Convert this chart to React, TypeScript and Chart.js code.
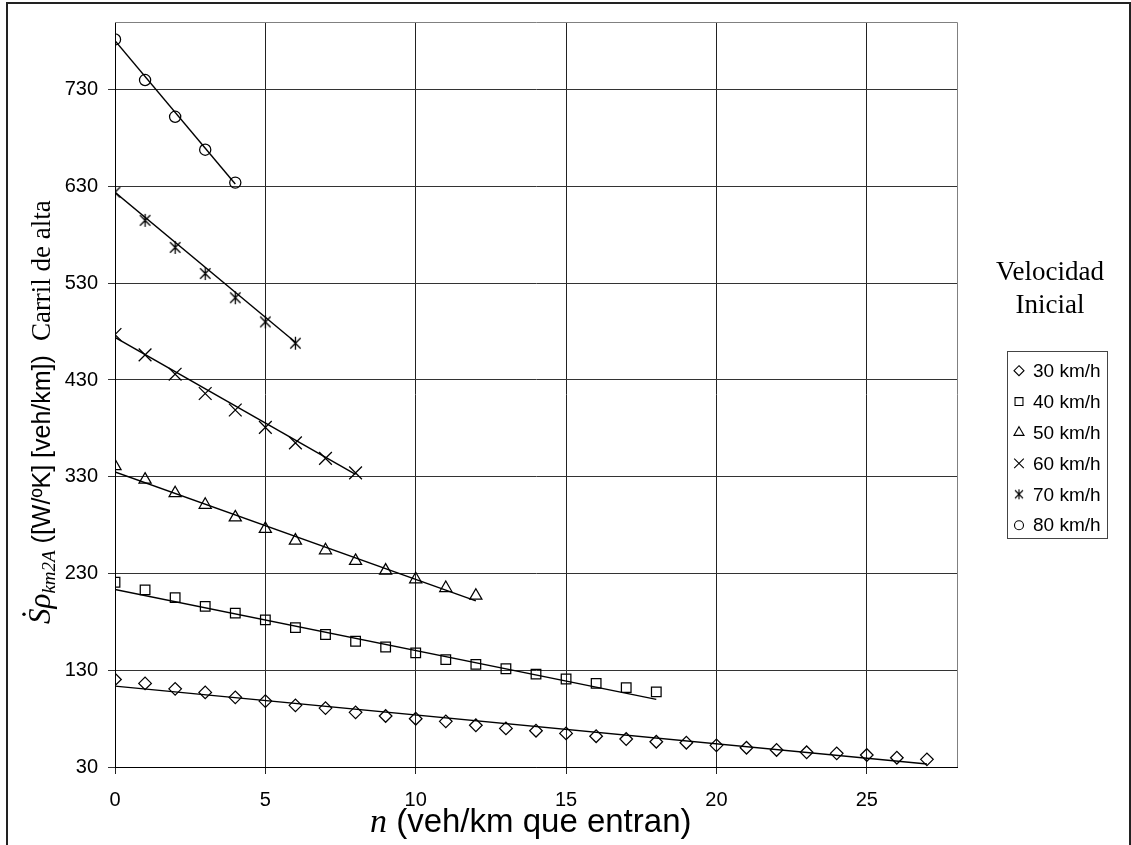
import React, { useEffect, useRef } from 'react';
import { Chart, registerables } from 'chart.js';

Chart.register(...registerables);

// ---- data ----
const xTickValues = [0, 5, 10, 15, 20, 25];
const yTickValues = [30, 130, 230, 330, 430, 530, 630, 730];

const seriesLabels = ['30 km/h', '40 km/h', '50 km/h', '60 km/h', '70 km/h', '80 km/h'];

const v30 = [120.5, 116.4, 110.8, 107.1, 102, 98.1, 93.7, 90.9, 86.5, 82.7, 79.9, 77.2, 73.1, 69.9, 67.5, 64.7, 61.8, 58.9, 56.1, 55.1, 52.4, 49.9, 47.6, 45.2, 44.1, 42.4, 39.6, 37.9];
const v40 = [221, 213, 205, 196, 189, 182, 174, 167, 160, 154, 148, 141, 136, 131.5, 126, 121, 116.4, 112, 107.7];
const v50 = [341, 327, 313, 301, 288, 276, 264, 254, 243, 233, 224, 215, 207];
const v60 = [477, 456, 436, 416, 399, 381, 365, 349, 334];
const v70 = [624, 595, 567, 540, 515, 490, 468];
const v80 = [782, 740, 702, 668, 634];

// trend lines (end points)
const trend30N = [0, 27];
const trend30V = [113.6, 33.1];
const trend40N = [0, 18];
const trend40V = [213.5, 99.9];
const trend50N = [0, 12];
const trend50V = [335, 201.7];
const trend60N = [0, 8];
const trend60V = [474, 332.5];
const trend70N = [0, 6];
const trend70V = [624, 469];
const trend80N = [0, 4];
const trend80V = [780.6, 632.6];

const SANS = 'Arial, "Liberation Sans", sans-serif';
const SERIF = '"Times New Roman", "Liberation Serif", serif';

function makeAsterisk(size: number, lw: number): HTMLCanvasElement {
  const c = document.createElement('canvas');
  c.width = size;
  c.height = size;
  const g = c.getContext('2d')!;
  g.strokeStyle = '#000';
  g.lineWidth = lw;
  const m = size / 2;
  const r = size / 2 - 1;
  const d = r * 0.8;
  g.beginPath();
  g.moveTo(m - d, m - d);
  g.lineTo(m + d, m + d);
  g.moveTo(m + d, m - d);
  g.lineTo(m - d, m + d);
  g.moveTo(m, m - r);
  g.lineTo(m, m + r);
  g.stroke();
  return c;
}

function drawMarker(ctx: CanvasRenderingContext2D, style: any, r: number, x: number, y: number) {
  ctx.beginPath();
  if (style === 'rectRot') {
    ctx.moveTo(x, y - r);
    ctx.lineTo(x + r, y);
    ctx.lineTo(x, y + r);
    ctx.lineTo(x - r, y);
    ctx.closePath();
  } else if (style === 'rect') {
    const s = r * Math.SQRT1_2;
    ctx.rect(x - s, y - s, 2 * s, 2 * s);
  } else if (style === 'triangle') {
    const h = r * 1.5;
    const w = r * Math.sqrt(3) / 2;
    ctx.moveTo(x, y - (2 / 3) * h);
    ctx.lineTo(x + w, y + h / 3);
    ctx.lineTo(x - w, y + h / 3);
    ctx.closePath();
  } else if (style === 'crossRot') {
    const d = r * Math.SQRT1_2;
    ctx.moveTo(x - d, y - d);
    ctx.lineTo(x + d, y + d);
    ctx.moveTo(x + d, y - d);
    ctx.lineTo(x - d, y + d);
  } else if (style === 'circle') {
    ctx.arc(x, y, r, 0, Math.PI * 2);
  } else {
    ctx.drawImage(style, x - style.width / 2, y - style.height / 2);
    return;
  }
  ctx.stroke();
}

const toPts = (vals: number[]) => vals.map((v, i) => ({ x: i, y: v }));
const toLine = (ns: number[], vs: number[]) => ns.map((n, i) => ({ x: n, y: vs[i] }));

export default function App() {
  const ref = useRef<HTMLCanvasElement | null>(null);

  useEffect(() => {
    const canvas = ref.current!;
    const star = makeAsterisk(15, 1.3);
    const starSmall = makeAsterisk(12, 1.1);

    const styles: any[] = ['rectRot', 'rect', 'triangle', 'crossRot', star, 'circle'];
    const radii = [6.3, 6.8, 7, 9, 7.5, 5.6];
    const legendStyles: any[] = ['rectRot', 'rect', 'triangle', 'crossRot', starSmall, 'circle'];
    const legendRadii = [5, 5.6, 5.8, 6.8, 6, 4.5];
    const values = [v30, v40, v50, v60, v70, v80];
    const trends = [
      toLine(trend30N, trend30V),
      toLine(trend40N, trend40V),
      toLine(trend50N, trend50V),
      toLine(trend60N, trend60V),
      toLine(trend70N, trend70V),
      toLine(trend80N, trend80V),
    ];

    const datasets: any[] = [];
    trends.forEach((t, i) => {
      datasets.push({
        label: 'trend ' + seriesLabels[i],
        data: t,
        showLine: true,
        borderColor: '#000',
        borderWidth: 1.4,
        pointRadius: 0,
        fill: false,
      });
    });
    values.forEach((v, i) => {
      datasets.push({
        label: seriesLabels[i],
        data: toPts(v),
        showLine: false,
        pointStyle: styles[i],
        pointRadius: radii[i],
        pointBorderColor: '#000',
        pointBackgroundColor: 'rgba(0,0,0,0)',
        pointBorderWidth: 1.25,
      });
    });

    const decor = {
      id: 'decor',
      beforeDatasetsDraw(chart: any) {
        const { ctx, chartArea } = chart;
        ctx.save();
        ctx.strokeStyle = '#808080';
        ctx.lineWidth = 1;
        ctx.beginPath();
        ctx.moveTo(chartArea.left, Math.round(chartArea.top) + 0.5);
        ctx.lineTo(Math.round(chartArea.right) + 0.5, Math.round(chartArea.top) + 0.5);
        ctx.lineTo(Math.round(chartArea.right) + 0.5, chartArea.bottom);
        ctx.stroke();
        ctx.restore();
      },
      afterDraw(chart: any) {
        const { ctx } = chart;
        ctx.save();
        // outer frame
        ctx.strokeStyle = '#222';
        ctx.lineWidth = 2;
        ctx.beginPath();
        ctx.moveTo(7, 845);
        ctx.lineTo(7, 3);
        ctx.lineTo(1130, 3);
        ctx.lineTo(1130, 845);
        ctx.stroke();

        // x axis title
        ctx.fillStyle = '#000';
        ctx.textBaseline = 'alphabetic';
        ctx.textAlign = 'left';
        let x = 370;
        const by = 832;
        ctx.font = 'italic 34px ' + SERIF;
        ctx.fillText('n', x, by);
        x += ctx.measureText('n').width;
        ctx.font = '33px ' + SANS;
        ctx.fillText(' (veh/km que entran)', x, by);

        // y axis title (rotated, reading bottom to top)
        ctx.save();
        ctx.translate(50, 624);
        ctx.rotate(-Math.PI / 2);
        let p = 0;
        ctx.font = 'italic 31px ' + SERIF;
        ctx.fillText('S', p, 0);
        const sw = ctx.measureText('S').width;
        ctx.beginPath();
        ctx.arc(p + sw / 2 + 2, -26, 1.7, 0, Math.PI * 2);
        ctx.fill();
        p += sw;
        ctx.fillText('\u03C1', p, 0);
        p += ctx.measureText('\u03C1').width;
        ctx.font = 'italic 19px ' + SERIF;
        ctx.fillText('km2A', p, 5);
        p += ctx.measureText('km2A').width;
        ctx.font = '25px ' + SANS;
        const mid = ' ([W/\u00BAK] [veh/km])';
        ctx.fillText(mid, p, 0);
        p += ctx.measureText(mid).width + 14;
        ctx.font = '27px ' + SERIF;
        ctx.fillText('Carril de alta', p, 0);
        ctx.restore();

        // legend title
        ctx.font = '27px ' + SERIF;
        ctx.textAlign = 'center';
        ctx.fillText('Velocidad', 1050, 280);
        ctx.fillText('Inicial', 1050, 313);

        // legend box
        ctx.strokeStyle = '#444';
        ctx.lineWidth = 1;
        ctx.strokeRect(1007.5, 351.5, 100, 187);
        ctx.textAlign = 'left';
        ctx.textBaseline = 'middle';
        ctx.font = '19px ' + SANS;
        for (let i = 0; i < seriesLabels.length; i++) {
          const yy = 370.7 + i * 30.9;
          ctx.strokeStyle = '#000';
          ctx.lineWidth = 1.1;
          drawMarker(ctx, legendStyles[i], legendRadii[i], 1019, yy);
          ctx.fillStyle = '#000';
          ctx.fillText(seriesLabels[i], 1033, yy + 1);
        }
        ctx.restore();
      },
    };

    const chart = new Chart(canvas, {
      type: 'scatter',
      data: { datasets },
      options: {
        responsive: false,
        animation: false,
        devicePixelRatio: 1,
        layout: { padding: { left: 0, top: 21, right: 174, bottom: 0 } },
        plugins: {
          legend: { display: false },
          tooltip: { enabled: false },
          title: { display: false },
        },
        scales: {
          x: {
            type: 'linear',
            min: 0,
            max: 28,
            afterBuildTicks: (s: any) => {
              s.ticks = xTickValues.map((v) => ({ value: v }));
            },
            afterFit: (s: any) => {
              s.height = 78;
            },
            grid: { color: '#222', lineWidth: 1, tickLength: 7, drawTicks: true },
            border: { color: '#000', width: 1 },
            ticks: {
              color: '#000',
              font: { family: SANS, size: 20 },
              padding: 14,
              maxRotation: 0,
            },
          },
          y: {
            type: 'linear',
            min: 30,
            max: 800,
            afterBuildTicks: (s: any) => {
              s.ticks = yTickValues.map((v) => ({ value: v }));
            },
            afterFit: (s: any) => {
              s.width = 115;
            },
            grid: { color: '#333', lineWidth: 1, tickLength: 7, drawTicks: true },
            border: { color: '#000', width: 1 },
            ticks: {
              color: '#000',
              font: { family: SANS, size: 20 },
              padding: 10,
            },
          },
        },
      },
      plugins: [decor],
    });

    return () => chart.destroy();
  }, []);

  return (
    <div style={{ position: 'absolute', left: 0, top: 0, width: 1131, height: 845, background: '#fff' }}>
      <canvas ref={ref} width={1131} height={845} style={{ display: 'block' }} />
    </div>
  );
}
